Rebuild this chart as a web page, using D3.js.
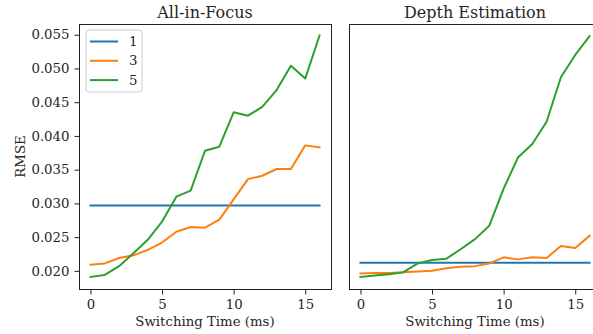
<!DOCTYPE html>
<html>
<head>
<meta charset="utf-8">
<script src="https://cdn.jsdelivr.net/npm/d3@7"></script>
<style>
  body { margin: 0; background: #fff; }
  svg text { font-family: "DejaVu Serif", serif; fill: #262626; }
</style>
</head>
<body>
<div id="chart"></div>
<script>
var times = d3.range(0, 17);
var seriesNames = ["1", "3", "5"];
var colors = ["#1f77b4", "#ff7f0e", "#2ca02c"];

// All-in-Focus
var focus1 = times.map(function() { return 0.0297; });
var focus3 = [0.0209, 0.0211, 0.0219, 0.0223, 0.0231, 0.0242, 0.0258, 0.0265, 0.0264,
              0.0276, 0.0306, 0.0336, 0.0341, 0.0351, 0.0351, 0.0386, 0.0383];
var focus5 = [0.0191, 0.0194, 0.0207, 0.0226, 0.0246, 0.0273, 0.0310, 0.0319, 0.0378,
              0.0384, 0.0435, 0.0430, 0.0443, 0.0468, 0.0504, 0.0485, 0.0549];

// Depth Estimation
var depth1 = times.map(function() { return 0.0212; });
var depth3 = [0.0196, 0.0197, 0.0197, 0.0198, 0.0199, 0.0200, 0.0204, 0.0206, 0.0207,
              0.0211, 0.0220, 0.0217, 0.0220, 0.0219, 0.0237, 0.0234, 0.0252];
var depth5 = [0.0191, 0.0193, 0.0195, 0.0198, 0.0211, 0.0216, 0.0218, 0.0232, 0.0247,
              0.0267, 0.0322, 0.0368, 0.0388, 0.0421, 0.0487, 0.0520, 0.0548];

var yTicks = [0.020, 0.025, 0.030, 0.035, 0.040, 0.045, 0.050, 0.055];
var xTicks = [0, 5, 10, 15];

var panels = [
  { title: "All-in-Focus", left: 79, series: [focus1, focus3, focus5], yaxis: true, legend: true },
  { title: "Depth Estimation", left: 349, series: [depth1, depth3, depth5], yaxis: false, legend: false }
];

var W = 593, H = 334;
var plotTop = 24, plotBottom = 289, pw = 252;

var svg = d3.select("#chart").append("svg")
    .attr("width", W)
    .attr("height", H);

var y = d3.scaleLinear()
    .domain([0.01731, 0.05659])
    .range([plotBottom, plotTop]);

panels.forEach(function(p) {
  var x = d3.scaleLinear()
      .domain([-0.8, 16.8])
      .range([p.left, p.left + pw]);

  var g = svg.append("g");

  var line = d3.line()
      .x(function(d, i) { return x(times[i]); })
      .y(function(d) { return y(d); });

  p.series.forEach(function(s, k) {
    g.append("path")
        .datum(s)
        .attr("d", line)
        .attr("fill", "none")
        .attr("stroke", colors[k])
        .attr("stroke-width", 2)
        .attr("stroke-linejoin", "round")
        .attr("stroke-linecap", "square");
  });

  // frame
  g.append("rect")
      .attr("x", p.left + 0.5)
      .attr("y", plotTop + 0.5)
      .attr("width", pw)
      .attr("height", plotBottom - plotTop)
      .attr("fill", "none")
      .attr("stroke", "#222")
      .attr("stroke-width", 1);

  var xAxis = g.append("g")
      .attr("transform", "translate(0," + (plotBottom + 0.5) + ")")
      .call(d3.axisBottom(x).tickValues(xTicks).tickSize(5).tickPadding(5).tickFormat(d3.format("d")));
  xAxis.select(".domain").remove();
  xAxis.selectAll(".tick line").attr("stroke", "#222");
  xAxis.selectAll("text").style("font-size", "13.3px").attr("fill", "#262626");

  g.append("text")
      .attr("x", x(8))
      .attr("y", 326)
      .attr("text-anchor", "middle")
      .style("font-size", "13.3px")
      .text("Switching Time (ms)");

  g.append("text")
      .attr("x", p.left + pw / 2)
      .attr("y", 18)
      .attr("text-anchor", "middle")
      .style("font-size", "16px")
      .text(p.title);

  if (p.yaxis) {
    var yAxis = g.append("g")
        .attr("transform", "translate(" + (p.left + 0.5) + ",0)")
        .call(d3.axisLeft(y).tickValues(yTicks).tickSize(5).tickPadding(5).tickFormat(d3.format(".3f")));
    yAxis.select(".domain").remove();
    yAxis.selectAll(".tick line").attr("stroke", "#222");
    yAxis.selectAll("text").style("font-size", "13.3px").attr("fill", "#262626");

    g.append("text")
        .attr("transform", "translate(25," + ((plotTop + plotBottom) / 2) + ") rotate(-90)")
        .attr("text-anchor", "middle")
        .style("font-size", "13.3px")
        .text("RMSE");
  }

  if (p.legend) {
    var lg = g.append("g").attr("transform", "translate(86,30)");
    lg.append("rect")
        .attr("width", 56)
        .attr("height", 62)
        .attr("rx", 3)
        .attr("fill", "#fff")
        .attr("fill-opacity", 0.8)
        .attr("stroke", "#ccc");
    seriesNames.forEach(function(n, k) {
      var ry = 11.5 + k * 19.3;
      lg.append("line")
          .attr("x1", 4).attr("x2", 32)
          .attr("y1", ry).attr("y2", ry)
          .attr("stroke", colors[k])
          .attr("stroke-width", 2);
      lg.append("text")
          .attr("x", 43)
          .attr("y", ry + 4.5)
          .style("font-size", "13.3px")
          .text(n);
    });
  }
});
</script>
</body>
</html>
